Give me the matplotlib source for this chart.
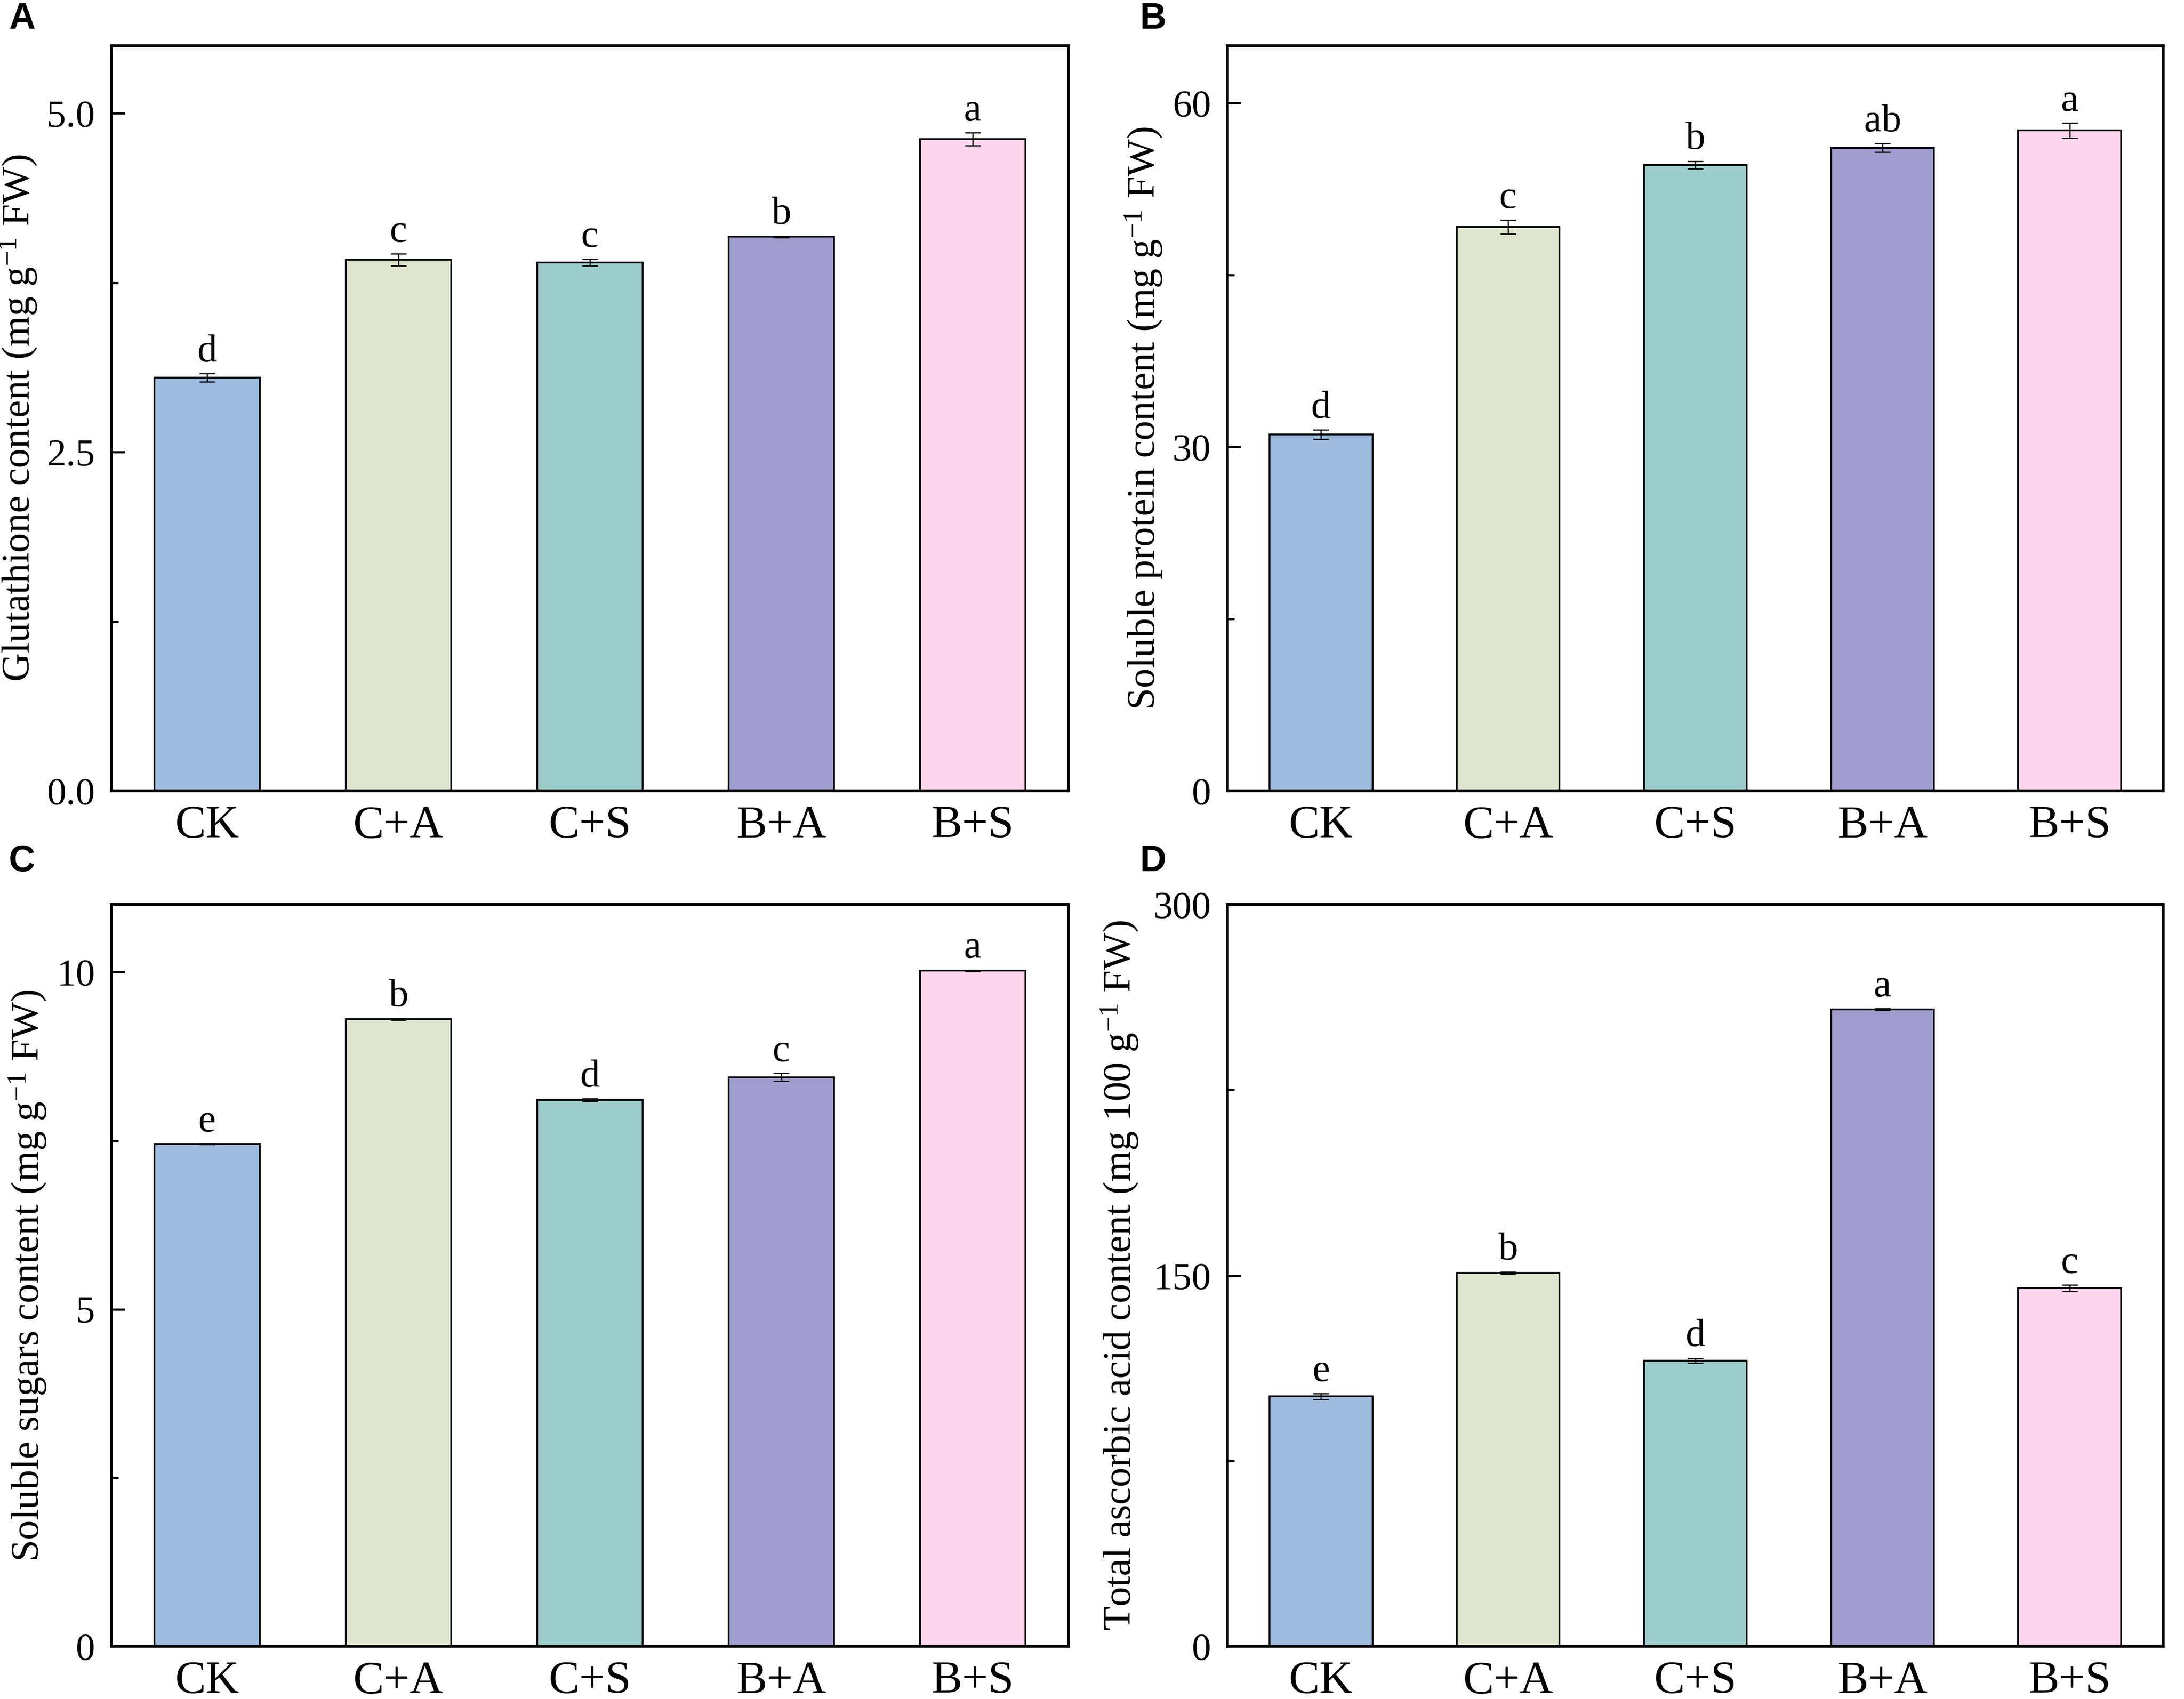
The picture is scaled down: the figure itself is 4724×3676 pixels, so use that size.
import numpy as np
import matplotlib.pyplot as plt
from matplotlib.ticker import MultipleLocator, FormatStrFormatter

plt.rcParams['font.family'] = ['Liberation Serif', 'DejaVu Serif']
plt.rcParams['mathtext.fontset'] = 'custom'
plt.rcParams['mathtext.rm'] = 'Liberation Serif'
plt.rcParams['mathtext.it'] = 'Liberation Serif:italic'

# Groups and colours
groups = ['CK', 'C+A', 'C+S', 'B+A', 'B+S']
colors = ['#9DBCDF', '#DEE5CE', '#9DCDCB', '#9E9DCD', '#FCD5EE']

# A: glutathione
gsh_mean = [3.05, 3.92, 3.90, 4.09, 4.81]
gsh_err = [0.03, 0.045, 0.025, 0.005, 0.048]
gsh_sig = ['d', 'c', 'c', 'b', 'a']

# B: soluble protein
prot_mean = [31.1, 49.2, 54.6, 56.1, 57.6]
prot_err = [0.4, 0.6, 0.33, 0.38, 0.66]
prot_sig = ['d', 'c', 'b', 'ab', 'a']

# C: soluble sugars
sug_mean = [7.45, 9.30, 8.10, 8.44, 10.02]
sug_err = [0.005, 0.01, 0.02, 0.06, 0.01]
sug_sig = ['e', 'b', 'd', 'c', 'a']

# D: total ascorbic acid
asa_mean = [101.1, 151.0, 115.5, 257.6, 144.8]
asa_err = [1.2, 0.5, 1.0, 0.3, 1.3]
asa_sig = ['e', 'b', 'd', 'a', 'c']

panels = [
    ('A', gsh_mean, gsh_err, gsh_sig, r'Glutathione content (mg g$^{-1}$ FW)', 5.5, 2.5, '%.1f', 4.5),
    ('B', prot_mean, prot_err, prot_sig, r'Soluble protein content (mg g$^{-1}$ FW)', 65, 30, '%d', 4.5),
    ('C', sug_mean, sug_err, sug_sig, r'Soluble sugars content (mg g$^{-1}$ FW)', 11, 5, '%d', 4.5),
    ('D', asa_mean, asa_err, asa_sig, r'Total ascorbic acid content (mg 100 g$^{-1}$ FW)', 300, 150, '%d', 7),
]

# axes rectangles [left, bottom, width, height]
rects = [
    [0.0510, 0.5345, 0.4382, 0.4386],
    [0.5620, 0.5345, 0.4285, 0.4386],
    [0.0510, 0.0310, 0.4382, 0.4366],
    [0.5620, 0.0310, 0.4285, 0.4366],
]
label_pos = [(0.004, 0.999), (0.522, 0.999), (0.004, 0.503), (0.522, 0.503)]

fig = plt.figure(figsize=(4724 / 300, 3676 / 300), dpi=300)

for (tag, mean, err, sig, ylab, ytop, step, fmt, lpad), rect, lp in zip(panels, rects, label_pos):
    ax = fig.add_axes(rect)
    x = np.arange(len(groups))
    ax.bar(x, mean, width=0.55, color=colors, edgecolor='black', linewidth=0.9, zorder=2)
    ax.errorbar(x, mean, yerr=err, fmt='none', ecolor='black', elinewidth=0.6,
                capsize=4, capthick=0.6, zorder=3)
    for xi, m, e, s in zip(x, mean, err, sig):
        ax.annotate(s, (xi, m + e), xytext=(0, 2), textcoords='offset points',
                    ha='center', va='bottom', fontsize=20.5)
    ax.set_xlim(-0.5, 4.5)
    ax.set_ylim(0, ytop)
    ax.set_xticks(x)
    ax.set_xticklabels(groups, fontsize=24)
    ax.yaxis.set_major_locator(MultipleLocator(step))
    ax.yaxis.set_minor_locator(MultipleLocator(step / 2))
    ax.yaxis.set_major_formatter(FormatStrFormatter(fmt))
    ax.tick_params(axis='y', which='major', direction='in', length=7, width=1.1, labelsize=20, pad=8.5)
    ax.tick_params(axis='y', which='minor', direction='in', length=3.5, width=1.1)
    ax.tick_params(axis='x', length=0, pad=7.5)
    for sp in ax.spines.values():
        sp.set_linewidth(1.5)
    ax.set_ylabel(ylab, fontsize=20.5, labelpad=lpad)
    fig.text(lp[0], lp[1], tag, ha='left', va='top', fontsize=19, fontweight='bold',
             family=['Liberation Sans', 'DejaVu Sans'])

fig.savefig('out.png', dpi=300)
